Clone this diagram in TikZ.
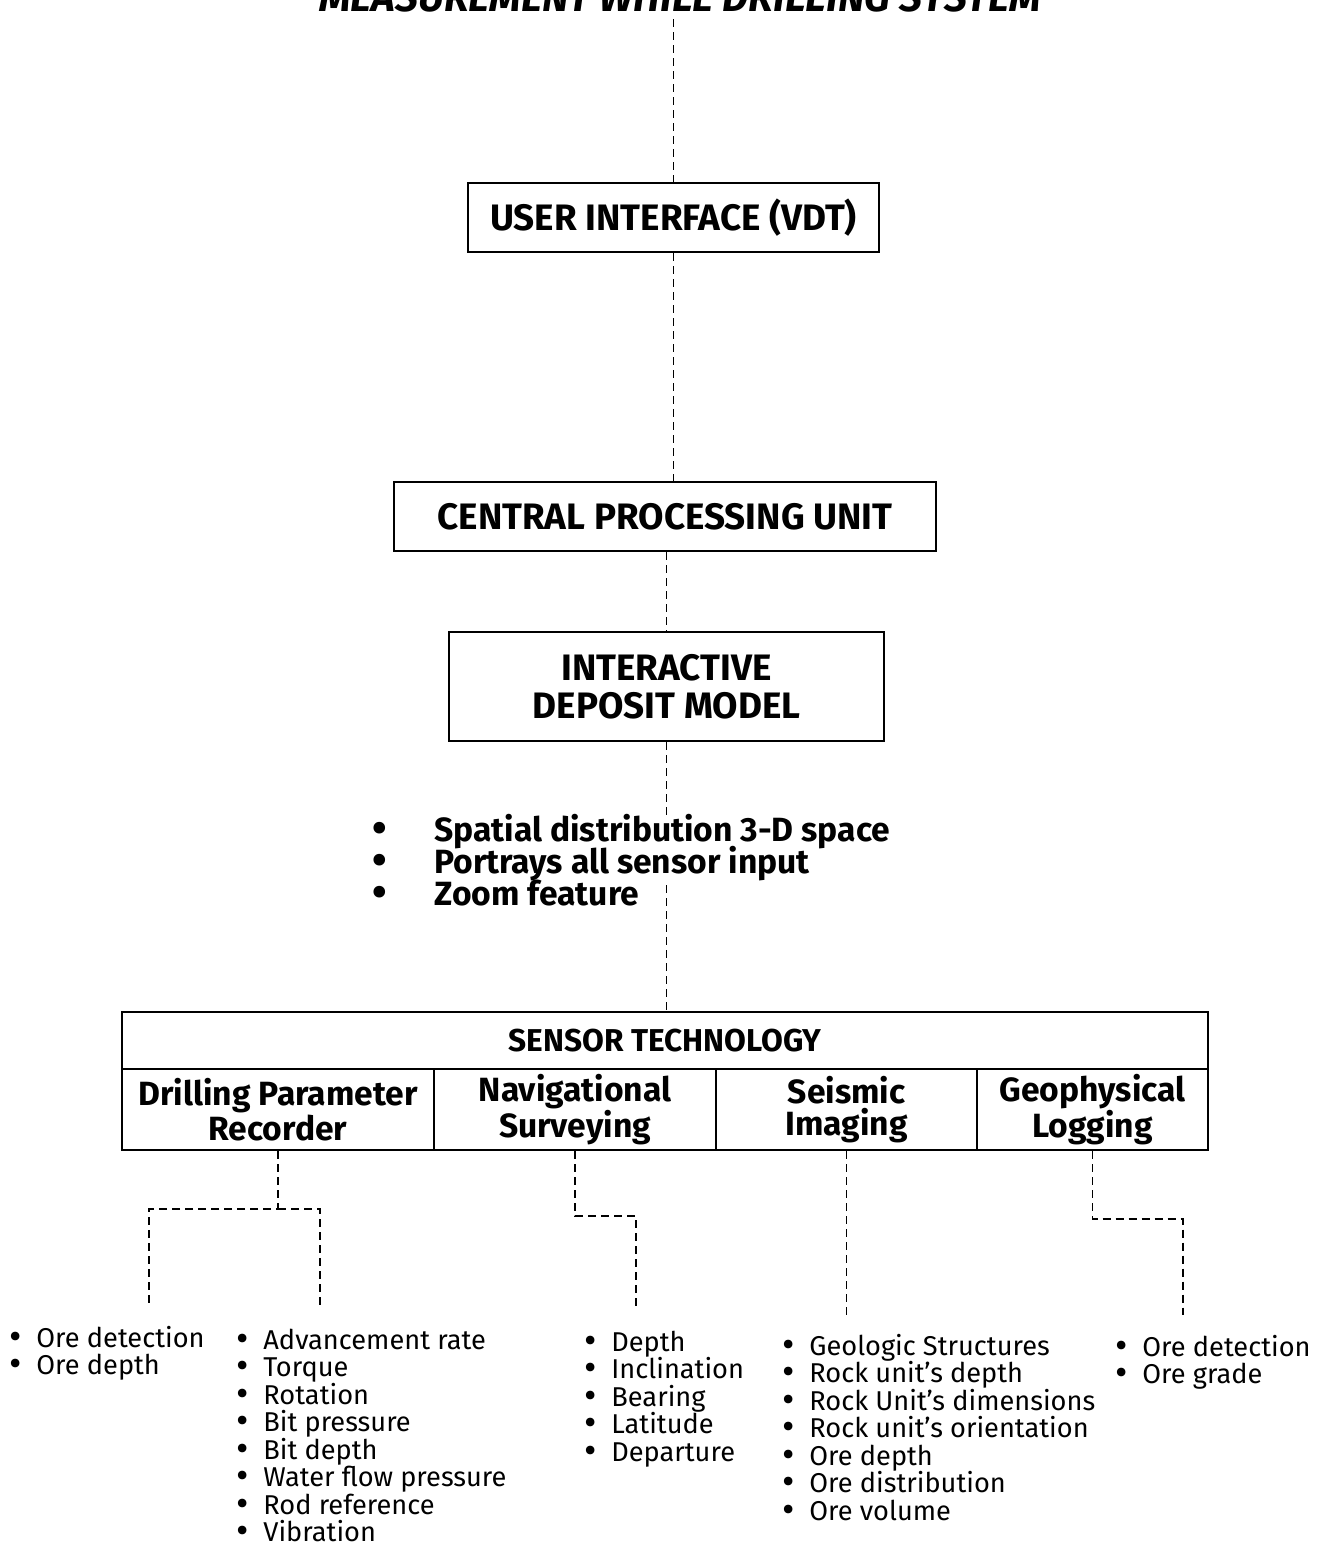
\documentclass[tikz,border=0pt]{standalone}
\usepackage{fontspec}
\usepackage{graphicx}
\setmainfont{Fira Sans}
\newcommand\boxfont{\fontsize{18.4}{19}\selectfont\bfseries}
\newcommand\cellfont{\fontsize{16.8}{16}\selectfont\bfseries}
\newcommand\listfont{\fontsize{13.6}{13.75}\selectfont}
\newcommand\blistfont{\fontsize{16.8}{16}\selectfont\bfseries}
\newcommand\bul{\raisebox{-0.15ex}{\scalebox{1.4}{\textbullet}}}
\newcommand\bbul{\raisebox{-0.1ex}{\scalebox{1.25}{\textbullet}}}
\newcommand\li[1]{\smash{\bul}&\smash{#1}\\}
\begin{document}
\begin{tikzpicture}[x=0.5pt,y=-0.5pt,
  box/.style={draw, line width=1pt, inner sep=0pt, align=center, font=\boxfont},
  cell/.style={draw, line width=1pt, inner sep=0pt, align=center, font=\cellfont,
    minimum height=40.5pt},
  conn/.style={draw, line width=0.8pt, dash pattern=on 4pt off 2.5pt},
  lst/.style={anchor=base west, inner sep=0pt, font=\listfont},
  blst/.style={anchor=base west, inner sep=0pt, font=\blistfont, fill=white,
    text height=11.8pt, text depth=4.2pt},
]
\useasboundingbox (0,0) rectangle (1322,1547);
\clip (0,0) rectangle (1322,1547);

% title (cut at top edge, as in the reference)
\node[anchor=base, inner sep=0pt, font=\fontsize{20.3}{22}\selectfont\bfseries\itshape]
  (title) at (680,11) {MEASUREMENT WHILE DRILLING SYSTEM};

% main boxes
\node[box, minimum width=205.5pt, minimum height=34.5pt] (ui) at (673.5,217.5) {USER INTERFACE (VDT)};
\node[box, minimum width=271pt, minimum height=34.5pt] (cpu) at (665,516.5) {CENTRAL PROCESSING UNIT};
\node[box, minimum width=217.5pt, minimum height=54.5pt] (idm) at (666.5,686.5) {INTERACTIVE\\DEPOSIT MODEL};

% sensor technology
\node[draw, line width=1pt, inner sep=0pt, font=\fontsize{15.8}{17}\selectfont\bfseries, minimum width=543pt, minimum height=28.5pt]
  (sensor) at (665,1040.5) {SENSOR TECHNOLOGY};
\node[cell, minimum width=156pt] (dpr) at (278,1109.5) {Drilling Parameter\\Recorder};
\node[cell, minimum width=141pt] (nav) at (575,1109.5) {Navigational\\Surveying};
\node[cell, minimum width=130.5pt] (seis) at (846.5,1109.5) {Seismic\\Imaging};
\node[cell, minimum width=115.5pt] (geo) at (1092.5,1109.5) {Geophysical\\Logging};

% vertical connectors
\draw[conn] (ui.north |- title.south) ++(0,7) -- (ui.north);
\draw[conn] (ui.south) -- (ui.south |- cpu.north);
\draw[conn] (idm.north |- cpu.south) -- (idm.north);
\draw[conn] (idm.south) -- (idm.south |- sensor.north);

% deposit model bullets
\node[blst] (b1) at (372,841) {\makebox[31pt][l]{\bbul}Spatial distribution 3-D space};
\node[blst] (b2) at (372,873) {\makebox[31pt][l]{\bbul}Portrays all sensor input};
\node[blst] (b3) at (372,905) {\makebox[31pt][l]{\bbul}Zoom feature};

% lower connectors
\coordinate (a1) at (149,1305);
\coordinate (a2) at (320,1305);
\coordinate (n1) at (636,1310);
\coordinate (s1) at (846.5,1317);
\coordinate (g1) at (1183,1315);
\draw[conn] (dpr.south) -- ++(0,58) -| (a1);
\draw[conn] ([yshift=-29pt]dpr.south) -| (a2);
\draw[conn] (nav.south) -- ++(0,65) -| (n1);
\draw[conn] (seis.south) -- (s1);
\draw[conn] (geo.south) -- ++(0,68) -| (g1);

% lists
\node[lst] (la) at (9,1347) {\begin{tabular}[t]{@{}p{13.5pt}@{}l@{}}
\li{Ore detection}
\li{Ore depth}
\end{tabular}};
\node[lst] (lb) at (236,1349) {\begin{tabular}[t]{@{}p{13.5pt}@{}l@{}}
\li{Advancement rate}
\li{Torque}
\li{Rotation}
\li{Bit pressure}
\li{Bit depth}
\li{Water flow pressure}
\li{Rod reference}
\li{Vibration}
\end{tabular}};
\node[lst] (lc) at (584,1351) {\begin{tabular}[t]{@{}p{13.5pt}@{}l@{}}
\li{Depth}
\li{Inclination}
\li{Bearing}
\li{Latitude}
\li{Departure}
\end{tabular}};
\node[lst] (ld) at (782,1355) {\begin{tabular}[t]{@{}p{13.5pt}@{}l@{}}
\li{Geologic Structures}
\li{Rock unit's depth}
\li{Rock Unit's dimensions}
\li{Rock unit's orientation}
\li{Ore depth}
\li{Ore distribution}
\li{Ore volume}
\end{tabular}};
\node[lst] (le) at (1115,1356) {\begin{tabular}[t]{@{}p{13.5pt}@{}l@{}}
\li{Ore detection}
\li{Ore grade}
\end{tabular}};
\end{tikzpicture}
\end{document}
